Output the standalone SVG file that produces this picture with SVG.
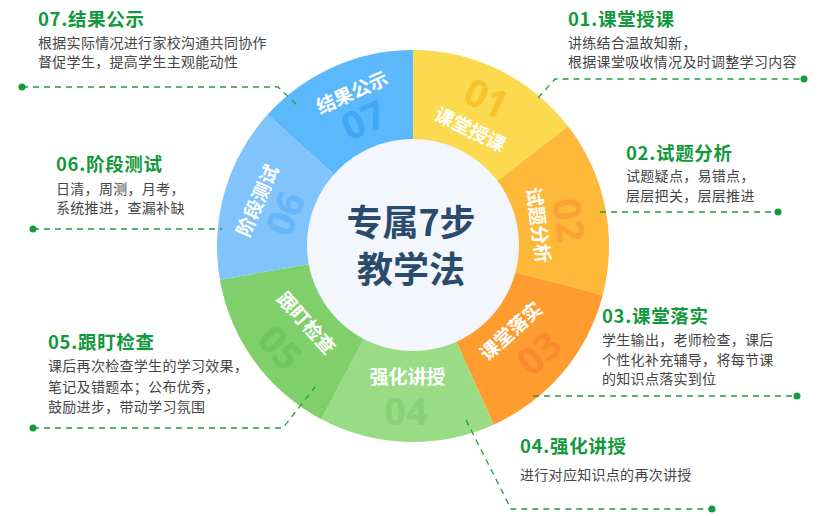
<svg xmlns="http://www.w3.org/2000/svg" width="820" height="516" viewBox="0 0 820 516">
<style>
.t{font-family:"Noto Sans CJK SC","Noto Sans",sans-serif;font-weight:bold;font-size:18.5px;fill:#12993b;letter-spacing:0.7px}
.b{font-family:"Noto Sans CJK SC","Noto Sans",sans-serif;font-size:14px;fill:#454545;letter-spacing:0.3px}
.lb{font-family:"Noto Sans CJK SC","Noto Sans",sans-serif;font-weight:bold;font-size:19px;fill:#ffffff;text-anchor:middle;dominant-baseline:central}
.nm{font-family:"Noto Sans","Noto Sans CJK SC",sans-serif;font-weight:bold;font-size:38px;text-anchor:middle;dominant-baseline:central}
.ctr{font-family:"Noto Sans CJK SC","Noto Sans",sans-serif;font-weight:bold;font-size:36px;fill:#2b4b6d;text-anchor:middle;dominant-baseline:central}
.ln{fill:none;stroke:#1e9e44;stroke-width:1.3;stroke-dasharray:6 5}
.dot{fill:#129a3c}
</style>
<rect width="820" height="516" fill="#ffffff"/>
<g id="ring">
<g id="seg01">
<path d="M413,246 L413,50 A196,196 0 0 1 568.08,126.15 Z" fill="#fcda4f"/>
<text class="nm" fill="#f9c22f" transform="rotate(26,487,97)" x="487" y="97">01</text>
<text class="lb" transform="rotate(26,471,128)" x="471" y="128">课堂授课</text>
</g>
<g id="seg02">
<path d="M413,246 L568.08,126.15 A196,196 0 0 1 602.75,295.08 Z" fill="#feb83a"/>
<text class="nm" fill="#fca235" transform="rotate(82,570,220)" x="570" y="220">02</text>
<text class="lb" transform="rotate(82,540,225)" x="540" y="225">试题分析</text>
</g>
<g id="seg03">
<path d="M413,246 L602.75,295.08 A196,196 0 0 1 493.66,424.63 Z" fill="#fe9c2f"/>
<text class="nm" fill="#fb8a2f" transform="rotate(-42,538,352)" x="538" y="352">03</text>
<text class="lb" transform="rotate(-42,510,330)" x="510" y="330">课堂落实</text>
</g>
<g id="seg04">
<path d="M413,246 L493.66,424.63 A196,196 0 0 1 321.29,419.22 Z" fill="#9adb86"/>
<text class="nm" fill="#88d275" x="406" y="410">04</text>
<text class="lb" x="407.5" y="375">强化讲授</text>
</g>
<g id="seg05">
<path d="M413,246 L321.29,419.22 A196,196 0 0 1 219.92,279.69 Z" fill="#7fcf6a"/>
<text class="nm" fill="#6fc65b" transform="rotate(48,281,347)" x="281" y="347">05</text>
<text class="lb" transform="rotate(48,307.5,322)" x="307.5" y="322">跟盯检查</text>
</g>
<g id="seg06">
<path d="M413,246 L219.92,279.69 A196,196 0 0 1 267.57,114.6 Z" fill="#80c4fb"/>
<text class="nm" fill="#66b6f9" transform="rotate(-68,284,213)" x="284" y="213">06</text>
<text class="lb" transform="rotate(-66,256,200)" x="256" y="200">阶段测试</text>
</g>
<g id="seg07">
<path d="M413,246 L267.57,114.6 A196,196 0 0 1 413,50 Z" fill="#5cb8fc"/>
<text class="nm" fill="#41a6f3" transform="rotate(-24,363,119)" x="363" y="119">07</text>
<text class="lb" transform="rotate(-24,351.5,91)" x="351.5" y="91">结果公示</text>
</g>
</g>
<g id="center">
<circle cx="413" cy="245" r="106" fill="#f3f6fd"/>
<text class="ctr" x="411" y="220">专属7步</text>
<text class="ctr" x="411" y="267">教学法</text>
</g>
<g id="connectors">
<path class="ln" d="M22,87 H278 L298,106"/>
<circle class="dot" cx="22" cy="87" r="3.5"/>
<path class="ln" d="M33,229 H222"/>
<circle class="dot" cx="33" cy="229" r="3.5"/>
<path class="ln" d="M33,428 H283 L315,387"/>
<circle class="dot" cx="33" cy="428" r="3.5"/>
<path class="ln" d="M466,420 L511,509 H712"/>
<circle class="dot" cx="712" cy="509" r="3.5"/>
<path class="ln" d="M533,396 H797"/>
<circle class="dot" cx="797" cy="396" r="3.5"/>
<path class="ln" d="M600,212 H778"/>
<circle class="dot" cx="778" cy="212" r="3.5"/>
<path class="ln" d="M538,98 L555,79 H804"/>
<circle class="dot" cx="804" cy="79" r="3.5"/>
</g>
<g id="note07">
<text class="t" x="38" y="26">07.结果公示</text>
<text class="b" x="38" y="48">根据实际情况进行家校沟通共同协作</text>
<text class="b" x="38" y="67">督促学生，提高学生主观能动性</text>
</g>
<g id="note06">
<text class="t" x="56" y="171">06.阶段测试</text>
<text class="b" x="56" y="194">日清，周测，月考，</text>
<text class="b" x="56" y="213">系统推进，查漏补缺</text>
</g>
<g id="note05">
<text class="t" x="48" y="349">05.跟盯检查</text>
<text class="b" x="48" y="371">课后再次检查学生的学习效果，</text>
<text class="b" x="48" y="392">笔记及错题本；公布优秀，</text>
<text class="b" x="48" y="412">鼓励进步，带动学习氛围</text>
</g>
<g id="note04">
<text class="t" x="520" y="453">04.强化讲授</text>
<text class="b" x="520" y="480">进行对应知识点的再次讲授</text>
</g>
<g id="note03">
<text class="t" x="602" y="323">03.课堂落实</text>
<text class="b" x="602" y="345">学生输出，老师检查，课后</text>
<text class="b" x="602" y="365">个性化补充辅导，将每节课</text>
<text class="b" x="602" y="384">的知识点落实到位</text>
</g>
<g id="note02">
<text class="t" x="626" y="160">02.试题分析</text>
<text class="b" x="626" y="181">试题疑点，易错点，</text>
<text class="b" x="626" y="201">层层把关，层层推进</text>
</g>
<g id="note01">
<text class="t" x="568" y="26">01.课堂授课</text>
<text class="b" x="568" y="48">讲练结合温故知新，</text>
<text class="b" x="568" y="67">根据课堂吸收情况及时调整学习内容</text>
</g>
</svg>
